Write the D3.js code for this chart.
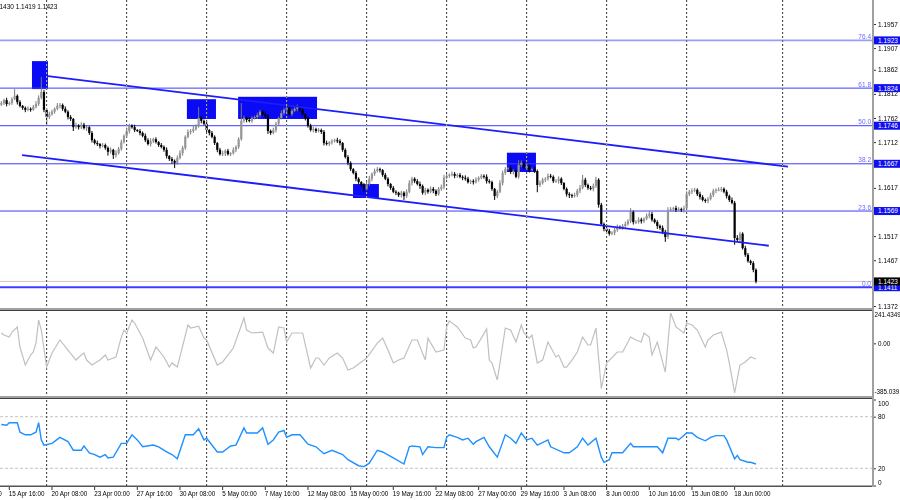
<!DOCTYPE html>
<html>
<head>
<meta charset="utf-8">
<script src="https://cdn.jsdelivr.net/npm/d3@7"></script>
<style>
  body { margin: 0; background: #fff; }
  svg { display: block; font-family: "Liberation Sans", Arial, sans-serif; }
</style>
</head>
<body>
<script>
// EURUSD H4 - closes per bar (bar 0 is the left-most candle)
const closes = [
  1.1793,1.1799,1.1791,1.1793,1.1801,1.1808,1.1795,1.1787,1.1783,1.1779,1.1781,1.1779,1.1785,1.1791,1.1804,1.1816,1.1779,1.1764,1.1770,1.1775,
  1.1781,1.1787,1.1789,1.1781,1.1775,1.1764,1.1760,1.1743,1.1746,1.1743,1.1748,1.1741,1.1743,1.1731,1.1716,1.1710,1.1708,1.1704,1.1706,1.1700,
  1.1692,1.1696,1.1685,1.1689,1.1698,1.1712,1.1725,1.1735,1.1746,1.1743,1.1737,1.1735,1.1731,1.1725,1.1716,1.1708,1.1714,1.1718,1.1712,1.1706,
  1.1702,1.1696,1.1683,1.1677,1.1673,1.1669,1.1679,1.1689,1.1700,1.1723,1.1733,1.1735,1.1739,1.1746,1.1762,1.1756,1.1750,1.1737,1.1731,1.1723,
  1.1710,1.1696,1.1687,1.1689,1.1694,1.1687,1.1689,1.1696,1.1702,1.1718,1.1756,1.1762,1.1758,1.1756,1.1762,1.1764,1.1768,1.1775,1.1770,1.1766,
  1.1735,1.1731,1.1737,1.1750,1.1762,1.1772,1.1779,1.1783,1.1770,1.1777,1.1781,1.1785,1.1779,1.1770,1.1762,1.1746,1.1737,1.1739,1.1735,1.1737,
  1.1733,1.1710,1.1708,1.1712,1.1714,1.1716,1.1714,1.1710,1.1696,1.1681,1.1669,1.1656,1.1648,1.1636,1.1629,1.1623,1.1615,1.1625,1.1636,1.1646,
  1.1652,1.1656,1.1654,1.1644,1.1636,1.1625,1.1617,1.1609,1.1607,1.1602,1.1607,1.1600,1.1609,1.1627,1.1636,1.1631,1.1625,1.1621,1.1607,1.1613,
  1.1609,1.1615,1.1611,1.1604,1.1615,1.1619,1.1638,1.1642,1.1644,1.1646,1.1642,1.1644,1.1640,1.1638,1.1636,1.1629,1.1631,1.1629,1.1634,1.1638,
  1.1642,1.1640,1.1631,1.1629,1.1615,1.1600,1.1609,1.1627,1.1648,1.1656,1.1658,1.1650,1.1652,1.1640,1.1665,1.1669,1.1658,1.1662,1.1654,1.1656,
  1.1652,1.1623,1.1627,1.1634,1.1636,1.1642,1.1640,1.1631,1.1631,1.1636,1.1627,1.1615,1.1604,1.1602,1.1600,1.1602,1.1611,1.1617,1.1634,1.1623,
  1.1617,1.1615,1.1621,1.1634,1.1582,1.1542,1.1532,1.1528,1.1522,1.1524,1.1530,1.1536,1.1534,1.1538,1.1542,1.1548,1.1567,1.1546,1.1546,1.1551,
  1.1548,1.1553,1.1559,1.1563,1.1551,1.1546,1.1538,1.1534,1.1526,1.1515,1.1571,1.1573,1.1575,1.1571,1.1573,1.1571,1.1575,1.1604,1.1609,1.1611,
  1.1613,1.1604,1.1598,1.1592,1.1590,1.1594,1.1602,1.1611,1.1613,1.1613,1.1615,1.1609,1.1600,1.1592,1.1586,1.1513,1.1509,1.1522,1.1492,1.1478,
  1.1465,1.1461,1.1447,1.1423
];
const firstOpen = 1.1790;

// wick length beyond the body, in pips
const wickHigh = [
  4,3,5,3,4,14,3,4,2,3,5,3,4,6,5,31,4,3,5,4,
  3,6,4,3,5,3,4,2,6,3,5,4,3,2,4,3,5,2,4,3,
  3,5,2,6,4,5,3,7,4,3,5,2,4,3,5,4,6,3,4,2,
  4,3,5,2,4,3,5,6,4,3,5,4,6,3,23,4,3,5,2,4,
  3,2,4,5,3,4,2,5,3,4,37,5,3,6,4,3,5,4,3,6,
  4,3,5,4,3,6,4,5,3,4,6,5,3,4,2,3,4,5,3,4,
  3,4,5,2,4,3,5,4,2,3,4,3,2,4,3,2,4,5,6,3,
  5,4,3,2,4,3,2,4,3,2,4,3,5,6,4,3,4,5,3,4,
  3,5,4,3,4,5,6,4,3,5,4,3,4,3,5,4,3,4,5,3,
  4,3,5,4,3,2,4,6,5,4,3,5,4,3,10,5,3,6,4,3,
  4,3,5,4,3,5,4,3,4,5,3,2,3,4,3,5,4,6,10,4,
  3,4,5,6,3,4,3,5,4,3,4,5,3,4,5,4,8,3,4,5,
  4,3,5,6,4,3,4,3,5,4,6,4,3,5,4,3,5,6,4,5,
  4,3,5,4,3,4,5,4,3,5,4,3,4,3,5,4,6,4,3,5,
  4,3,4,3
];
const wickLow = [
  3,4,5,3,4,2,5,3,4,5,3,4,2,3,4,3,5,16,4,3,
  4,3,5,4,3,5,4,8,3,5,4,3,6,4,5,3,4,5,3,4,
  8,4,8,5,3,4,3,4,5,3,4,2,5,3,4,3,5,4,3,4,
  3,4,5,4,6,11,4,3,5,4,3,5,4,3,4,5,3,4,5,3,
  4,5,3,4,6,3,4,3,5,4,3,4,5,3,4,3,4,5,3,4,
  6,4,3,5,4,3,4,5,3,4,3,5,4,3,5,4,3,5,4,3,
  4,5,3,4,5,3,4,5,4,3,5,4,3,5,4,4,6,3,4,5,
  4,3,5,4,3,5,4,3,5,4,5,8,4,3,5,4,3,6,4,5,
  4,3,5,4,3,4,5,3,4,3,5,4,3,5,4,3,4,5,3,4,
  3,4,5,3,4,8,4,3,5,4,3,4,5,3,4,5,3,4,5,3,
  4,15,4,3,5,4,3,4,3,5,4,3,5,6,4,3,4,5,3,4,
  4,3,5,4,6,4,5,6,4,3,5,4,3,4,5,3,4,5,4,3,
  5,4,3,5,4,3,6,4,5,10,4,3,5,4,3,4,5,3,4,5,
  3,4,5,3,4,5,3,4,5,3,4,3,5,4,3,14,4,5,3,4,
  3,4,5,4
];

// CCI readings (bar index / value)
const cciBars = [
  0,1,3,4,6,7,9,11,12,13,14,15,17,19,22,25,28,30,31,32,
  34,37,39,40,43,45,46,47,49,50,53,56,58,61,63,64,66,70,71,74,
  76,77,81,83,87,91,92,94,98,100,102,104,106,107,109,113,116,118,119,121,
  123,126,128,130,132,137,141,143,145,147,149,151,154,156,159,160,163,166,167,168,
  171,174,176,177,178,180,182,183,184,186,187,189,191,193,195,196,198,199,201,203,
  205,208,209,211,212,214,216,218,220,221,223,225,227,231,233,236,238,240,241,243,
  244,246,249,251,253,256,257,259,261,264,265,267,270,272,273,275,277,279,281,283
];
const cciValues = [
  85,69,53,92,132,-25,-166,-88,-64,6,186,108,-182,-72,30,-49,-127,-88,-72,-127,
  -166,-127,-88,-127,-103,53,108,85,186,163,45,-127,-25,-103,-182,-150,-182,147,124,139,
  45,30,-166,-142,-33,202,108,85,92,-33,-72,132,124,14,85,85,-189,-111,-111,-166,
  -111,-72,-111,-205,-189,-111,6,45,-49,-150,-127,-111,30,30,-127,45,-64,-49,132,180,
  132,45,30,-33,-25,45,116,-127,-150,-283,-150,124,108,14,147,85,45,69,-150,-127,
  14,-103,-88,-182,-182,-127,-64,53,-9,-9,124,-350,-150,-64,-64,53,30,14,85,53,
  -88,14,-221,241,132,85,163,147,108,-25,30,69,92,-49,-150,-385,-166,-142,-103,-119
];
const cciMax = 241.4349, cciMin = -385.039;

// RSI readings (bar index / value)
const rsiBars = [
  0,2,3,6,7,9,11,13,14,15,16,19,22,25,27,30,31,33,35,37,
  39,40,42,45,47,49,51,53,57,59,62,64,66,69,72,74,76,77,81,83,
  86,88,91,92,96,98,100,102,104,106,107,109,112,115,118,121,124,128,130,134,
  136,138,141,143,147,151,153,154,157,158,160,163,166,167,168,171,173,175,177,178,
  181,183,186,189,191,193,195,197,199,201,205,206,211,213,216,218,220,223,225,226,
  228,229,233,236,237,241,243,246,248,250,253,254,257,259,261,264,266,268,271,272,
  275,276,277,280,281,283
];
const rsiValues = [
  71,70,73,73,62,59,59,62,73,53,47,49,56,51,41,41,46,38,36,33,
  36,32,33,49,49,59,53,45,47,45,39,36,31,59,59,66,53,55,39,39,
  46,47,67,61,61,67,48,53,62,64,56,59,59,48,45,37,41,36,30,23,
  22,26,41,39,32,25,45,46,45,36,45,44,44,56,59,56,53,55,48,51,
  56,45,33,59,55,49,61,53,55,47,53,45,38,38,45,55,47,55,33,27,
  30,38,38,49,45,45,45,45,38,55,55,53,61,61,56,52,56,58,58,53,
  31,35,30,27,27,25
];

const timeLabels = ["13 Apr 00:00", "15 Apr 16:00", "20 Apr 08:00", "23 Apr 00:00", "27 Apr 16:00",
  "30 Apr 08:00", "5 May 00:00", "7 May 16:00", "12 May 08:00", "15 May 00:00", "19 May 16:00",
  "22 May 08:00", "27 May 00:00", "29 May 16:00", "3 Jun 08:00", "8 Jun 00:00", "10 Jun 16:00",
  "15 Jun 08:00", "18 Jun 00:00"];
const firstLabelBar = -13, labelStep = 16;
const gridBars = [17, 47, 77, 107, 137, 167, 197, 227, 257, 293];

const priceTicks = [1.1957, 1.1907, 1.1862, 1.1812, 1.1762, 1.1712, 1.1617, 1.1517, 1.1467, 1.1372];
const fibPrices = [1.1923, 1.1824, 1.1746, 1.1667, 1.1569, 1.1411];
const fibNames = ["76.4", "61.8", "50.0", "38.2", "23.6", "0.0"];
const lastPrice = 1.1423;
const header = "1.1430 1.1419 1.1423";

// zones: [start bar, end bar, top price, bottom price]
const zones = [
  [11.5, 17.5, 1.1880, 1.1822],
  [69.6, 80.5, 1.1801, 1.1760],
  [88.8, 118.4, 1.1806, 1.1760],
  [131.9, 141.6, 1.1625, 1.1596],
  [189.6, 200.5, 1.1690, 1.1650]
];
// channel: [[bar, price], [bar, price]]
const channelUpper = [[17.5, 1.1849], [295, 1.1661]];
const channelLower = [[7.8, 1.1685], [287.8, 1.1497]];

const W = 900, H = 500, plotR = 873;

const svg = d3.select("body").append("svg").attr("width", W).attr("height", H);
svg.append("rect").attr("width", W).attr("height", H).attr("fill", "#fff");

// scales
const x = d3.scaleLinear().domain([0, 327]).range([1.3, 1.3 + 327 * 8 / 3]);
const yP = d3.scaleLinear().domain([1.1372, 1.1957]).range([306, 24]);
const yC = d3.scaleLinear().domain([cciMin, cciMax]).range([393, 313]);
const yR = d3.scaleLinear().domain([0, 100]).range([485.5, 399.5]);

const defs = svg.append("defs");
defs.append("clipPath").attr("id", "cMain").append("rect").attr("x", 0).attr("y", 0).attr("width", plotR).attr("height", 308);
defs.append("clipPath").attr("id", "cCci").append("rect").attr("x", 0).attr("y", 311).attr("width", plotR).attr("height", 85);
defs.append("clipPath").attr("id", "cRsi").append("rect").attr("x", 0).attr("y", 399).attr("width", plotR).attr("height", 86);

const main = svg.append("g").attr("clip-path", "url(#cMain)");

// zones (background objects)
main.append("g").selectAll("rect").data(zones).join("rect")
  .attr("x", d => x(d[0])).attr("width", d => x(d[1]) - x(d[0]))
  .attr("y", d => yP(d[2])).attr("height", d => yP(d[3]) - yP(d[2]))
  .attr("fill", "#0a0af5");

// rsi level lines
svg.append("g").selectAll("line").data([80, 20]).join("line")
  .attr("x1", 0).attr("x2", plotR).attr("y1", d => yR(d)).attr("y2", d => yR(d))
  .attr("stroke", "#c4c4c4").attr("stroke-dasharray", "3,2");

// vertical grid (xor-like look)
svg.append("g").selectAll("line").data(gridBars).join("line")
  .attr("x1", d => x(d)).attr("x2", d => x(d)).attr("y1", 0).attr("y2", 486)
  .attr("stroke", "#fff").attr("stroke-opacity", 0.8).attr("stroke-dasharray", "2,2")
  .style("mix-blend-mode", "difference");

// last price line
main.append("line").attr("x1", 0).attr("x2", plotR)
  .attr("y1", yP(lastPrice)).attr("y2", yP(lastPrice)).attr("stroke", "#c8c8c8");

// fibo levels
main.append("g").selectAll("line").data(fibPrices).join("line")
  .attr("x1", 0).attr("x2", plotR).attr("y1", d => yP(d)).attr("y2", d => yP(d))
  .attr("stroke", (d, i) => i === 0 ? "#9a9aff" : "#3c3cff")
  .attr("stroke-width", (d, i) => i === 0 ? 1.6 : (i === 5 ? 2 : 1));
main.append("g").selectAll("text").data(fibPrices).join("text")
  .attr("x", 871).attr("y", d => yP(d) - 1.5).attr("text-anchor", "end")
  .attr("font-size", 6.5).attr("fill", "#6a6aff")
  .text((d, i) => fibNames[i]);

// candles
const bars = closes.map((c, i) => {
  const o = i === 0 ? firstOpen : closes[i - 1];
  return { i, o, c, h: Math.max(o, c) + wickHigh[i] / 10000, l: Math.min(o, c) - wickLow[i] / 10000 };
});
const gC = main.append("g");
gC.selectAll("line").data(bars).join("line")
  .attr("x1", d => x(d.i)).attr("x2", d => x(d.i))
  .attr("y1", d => yP(d.h)).attr("y2", d => yP(d.l))
  .attr("stroke", d => d.c >= d.o ? "#7a7a7a" : "#000").attr("stroke-width", 1);
gC.selectAll("rect").data(bars).join("rect")
  .attr("x", d => x(d.i) - 1.1).attr("width", 2.2)
  .attr("y", d => yP(Math.max(d.o, d.c)))
  .attr("height", d => Math.max(1, Math.abs(yP(d.o) - yP(d.c))))
  .attr("fill", d => d.c >= d.o ? "#969696" : "#000");

// channel
main.append("g").selectAll("line").data([channelUpper, channelLower]).join("line")
  .attr("x1", d => x(d[0][0])).attr("y1", d => yP(d[0][1]))
  .attr("x2", d => x(d[1][0])).attr("y2", d => yP(d[1][1]))
  .attr("stroke", "#1c1cff").attr("stroke-width", 1.8);

// header
svg.append("text").attr("x", -6).attr("y", 9).attr("font-size", 6.5).attr("fill", "#000").text(header);

// CCI
svg.append("path").datum(cciBars.map((b, i) => [b, cciValues[i]]))
  .attr("clip-path", "url(#cCci)")
  .attr("fill", "none").attr("stroke", "#c0c0c0").attr("stroke-width", 1.2)
  .attr("d", d3.line().x(d => x(d[0])).y(d => yC(d[1])));

// RSI
svg.append("path").datum(rsiBars.map((b, i) => [b, rsiValues[i]]))
  .attr("clip-path", "url(#cRsi)")
  .attr("fill", "none").attr("stroke", "#1e90ff").attr("stroke-width", 1.4)
  .attr("d", d3.line().x(d => x(d[0])).y(d => yR(d[1])));

// panel frames
svg.append("rect").attr("x", 0).attr("y", 308).attr("width", plotR).attr("height", 2).attr("fill", "#a0a0a0");
svg.append("line").attr("x1", 0).attr("x2", plotR).attr("y1", 310.5).attr("y2", 310.5).attr("stroke", "#404040");
svg.append("rect").attr("x", 0).attr("y", 396).attr("width", plotR).attr("height", 2).attr("fill", "#a0a0a0");
svg.append("line").attr("x1", 0).attr("x2", plotR).attr("y1", 398.5).attr("y2", 398.5).attr("stroke", "#404040");
svg.append("rect").attr("x", 0).attr("y", 485.5).attr("width", plotR + 1).attr("height", 1.5).attr("fill", "#555");
svg.append("rect").attr("x", 872).attr("y", 0).attr("width", 2).attr("height", 487).attr("fill", "#a0a0a0");

// price axis
const axP = svg.append("g").attr("transform", `translate(${plotR + 1},0)`)
  .call(d3.axisRight(yP).tickValues(priceTicks).tickSize(2).tickPadding(2).tickFormat(d3.format(".4f")));
axP.select(".domain").remove();
axP.attr("font-family", null).attr("font-size", 6.5);
axP.selectAll("line").attr("stroke", "#333");

// highlighted price tags
const tags = fibPrices.map(p => ({ p, bg: "#0f0ff0" })).concat([{ p: lastPrice, bg: "#000" }]);
const gT = svg.append("g").selectAll("g").data(tags).join("g")
  .attr("transform", d => `translate(${plotR + 1},${yP(d.p)})`);
gT.append("rect").attr("x", 0).attr("y", -4).attr("width", 27).attr("height", 8).attr("fill", d => d.bg);
gT.append("text").attr("x", 4).attr("y", 2.4).attr("font-size", 6.5).attr("fill", "#fff")
  .text(d => d3.format(".4f")(d.p));

// indicator scales
const axC = svg.append("g").attr("transform", `translate(${plotR + 1},0)`);
axC.selectAll("text").data([[cciMax, "241.4349", 316.5], [0, "0.00", yC(0) + 2.3], [cciMin, "-385.039", 394]]).join("text")
  .attr("x", d => d[0] === 0 ? 4 : 0.5).attr("y", d => d[2]).attr("font-size", 6.3).attr("fill", "#000").text(d => d[1]);
axC.append("line").attr("x1", 0).attr("x2", 2).attr("y1", yC(0)).attr("y2", yC(0)).attr("stroke", "#333");

const axR = svg.append("g").attr("transform", `translate(${plotR + 1},0)`)
  .call(d3.axisRight(yR).tickValues([100, 80, 20, 0]).tickSize(2).tickPadding(2).tickFormat(d3.format("d")));
axR.select(".domain").remove();
axR.attr("font-family", null).attr("font-size", 6.5);
axR.selectAll("line").attr("stroke", "#333");
axR.selectAll(".tick text").attr("dy", (d) => d === 100 ? "0.9em" : (d === 0 ? "-0.1em" : "0.32em"));

// time axis
const labelData = timeLabels.map((t, k) => ({ t, b: firstLabelBar + k * labelStep }));
const gX = svg.append("g");
gX.selectAll("line").data(labelData).join("line")
  .attr("x1", d => x(d.b)).attr("x2", d => x(d.b)).attr("y1", 487).attr("y2", 490)
  .attr("stroke", "#333");
gX.selectAll("text").data(labelData).join("text")
  .attr("x", d => x(d.b) - 0.5).attr("y", 496).attr("font-size", 6.3).attr("fill", "#000")
  .text(d => d.t);
</script>
</body>
</html>
